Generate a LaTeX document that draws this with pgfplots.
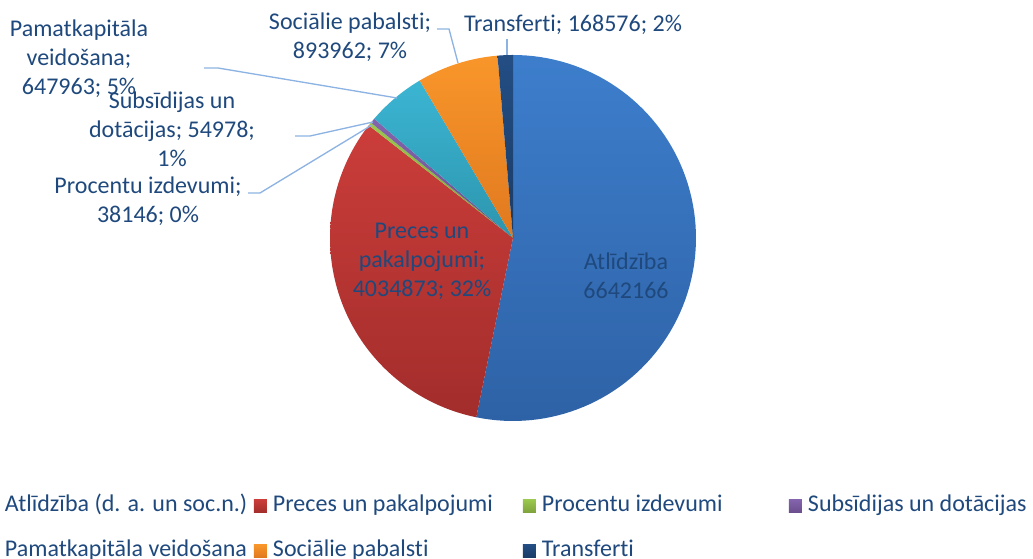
\documentclass[border=0pt]{standalone}
\usepackage{fontspec}
\setmainfont{Carlito}[Ligatures={NoCommon}]
\usepackage{pgfplots}
\usepackage{pgfplotstable}
\pgfplotsset{compat=1.18}

\definecolor{txt}{HTML}{1F497D}
\definecolor{lead}{HTML}{8DB3E2}
\definecolor{blueT}{HTML}{3D7ECC}\definecolor{blueB}{HTML}{2E62A6}
\definecolor{redT}{HTML}{CB3D3A}\definecolor{redB}{HTML}{A22D2B}
\definecolor{greenT}{HTML}{9BC84E}\definecolor{greenB}{HTML}{7FA33C}
\definecolor{purpT}{HTML}{8464AC}\definecolor{purpB}{HTML}{6B4E8E}
\definecolor{tealT}{HTML}{3BB5D3}\definecolor{tealB}{HTML}{2D95AE}
\definecolor{oranT}{HTML}{F9962A}\definecolor{oranB}{HTML}{E0791F}
\definecolor{navyT}{HTML}{234E84}\definecolor{navyB}{HTML}{1A3B66}

% values of the slices, in drawing order (clockwise from 12 o'clock)
\pgfplotstableread{
value
6642166
4034873
38146
54978
647963
893962
168576
}\piedata

% cumulative angles
\pgfkeys{/pgf/fpu=true,/pgf/fpu/output format=fixed}
\def\total{0}
\pgfplotsforeachungrouped \i in {0,1,2,3,4,5,6}{%
  \pgfplotstablegetelem{\i}{value}\of\piedata
  \pgfmathsetmacro\total{\total+\pgfplotsretval}%
  \xdef\total{\total}%
}
\def\cum{0}
\pgfplotsforeachungrouped \i in {0,1,2,3,4,5,6}{%
  \pgfplotstablegetelem{\i}{value}\of\piedata
  \pgfmathsetmacro\startang{90-360*\cum/\total}%
  \pgfmathsetmacro\cum{\cum+\pgfplotsretval}%
  \xdef\cum{\cum}%
  \pgfmathsetmacro\endang{90-360*\cum/\total}%
  \expandafter\xdef\csname sA\i\endcsname{\startang}%
  \expandafter\xdef\csname eA\i\endcsname{\endang}%
}
\pgfkeys{/pgf/fpu=false}

\newcommand\lbl{\fontsize{18}{21.75}\selectfont}
\newcommand\slice[3]{%
  \addplot[draw=none, top color=#2, bottom color=#3,
    domain={\csname eA#1\endcsname}:{\csname sA#1\endcsname}, samples=90]
    ({513+183*cos(x)},{321+183*sin(x)}) -- (513,321) -- cycle;
}

\begin{document}
\begin{tikzpicture}
\begin{axis}[
  x=0.75pt, y=0.75pt,
  xmin=0, xmax=1033, ymin=0, ymax=559,
  hide axis, clip=false,
  legend columns=4,
  legend image code/.code={\fill[#1] (0pt,-4.875pt) rectangle (9.75pt,4.875pt);},
  legend style={at={(axis cs:-14,65)}, anchor=north west,
    draw=none, fill=none, inner sep=0pt, outer sep=0pt,
    row sep=15.75pt,
    font=\lbl, text=txt,
    nodes={inner sep=0pt, text=txt, text height=13.5pt, text depth=4.5pt},
    /tikz/every odd column/.append style={column sep=4.5pt}},
  legend cell align=left,
]
\slice{0}{blueT}{blueB}
\addlegendentry{\makebox[186.75pt][l]{Atlīdzība (d. a. un soc.n.)}}
\slice{1}{redT}{redB}
\addlegendentry{\makebox[187.5pt][l]{Preces un pakalpojumi}}
\slice{2}{greenT}{greenB}
\addlegendentry{\makebox[185.25pt][l]{Procentu izdevumi}}
\slice{3}{purpT}{purpB}
\addlegendentry{Subsīdijas un dotācijas}
\slice{4}{tealT}{tealB}
\addlegendentry{\makebox[186.75pt][l]{Pamatkapitāla veidošana}}
\slice{5}{oranT}{oranB}
\addlegendentry{\makebox[187.5pt][l]{Sociālie pabalsti}}
\slice{6}{navyT}{navyB}
\addlegendentry{\makebox[185.25pt][l]{Transferti}}

% leader lines
\draw[lead, line width=1pt] (204,491) -- (218,491) -- (397,461);
\draw[lead, line width=1pt] (295,423) -- (310,423) -- (373,437);
\draw[lead, line width=1pt] (248,366) -- (260,366) -- (372,434);
\draw[lead, line width=1pt] (437,530) -- (449,530) -- (458,496);
\draw[lead, line width=1pt] (507,520) -- (507,504);

% data labels
\node[font=\lbl, text=txt, align=center, inner sep=0pt] at (79,500) {Pamatkapitāla\\veidošana;\\647963; 5\%};
\node[font=\lbl, text=txt, align=center, inner sep=0pt] at (172,430) {Subsīdijas un\\dotācijas; 54978;\\1\%};
\node[font=\lbl, text=txt, align=center, inner sep=0pt] at (148,358) {Procentu izdevumi;\\38146; 0\%};
\node[font=\lbl, text=txt, align=center, inner sep=0pt] at (350,522) {Sociālie pabalsti;\\893962; 7\%};
\node[font=\lbl, text=txt, align=center, inner sep=0pt] at (573,534) {Transferti; 168576; 2\%};
\node[font=\lbl, text=txt, align=center, inner sep=0pt] at (422,298) {Preces un\\pakalpojumi;\\4034873; 32\%};
\node[font=\lbl, text=txt, align=center, inner sep=0pt] at (626,283) {Atlīdzība\\6642166};

\coordinate (ll) at (0,0);
\coordinate (ur) at (1033,559);
\end{axis}
\pgfresetboundingbox
\path[use as bounding box] (ll) rectangle (ur);
\end{tikzpicture}
\end{document}
